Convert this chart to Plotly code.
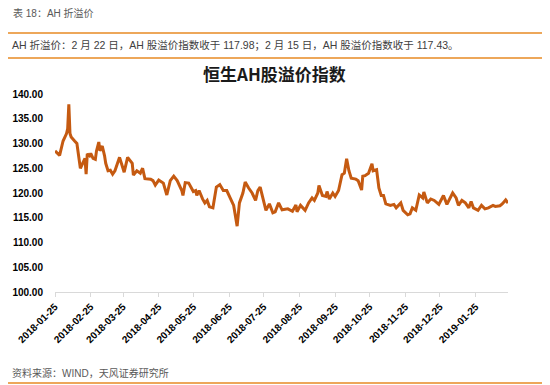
import plotly.graph_objects as go

dates = [
    "2018-01-25", "2018-01-27", "2018-01-29", "2018-02-01", "2018-02-04", "2018-02-05",
    "2018-02-06", "2018-02-07", "2018-02-08", "2018-02-11", "2018-02-13", "2018-02-16",
    "2018-02-18", "2018-02-20", "2018-02-21", "2018-02-22", "2018-02-24", "2018-02-25",
    "2018-02-27", "2018-03-01", "2018-03-02", "2018-03-04", "2018-03-05", "2018-03-07",
    "2018-03-09", "2018-03-10", "2018-03-12", "2018-03-14", "2018-03-16", "2018-03-18",
    "2018-03-22", "2018-03-26", "2018-03-29", "2018-04-02", "2018-04-03", "2018-04-06",
    "2018-04-09", "2018-04-11", "2018-04-13", "2018-04-18", "2018-04-20", "2018-04-22",
    "2018-04-25", "2018-04-29", "2018-05-02", "2018-05-05", "2018-05-08", "2018-05-11",
    "2018-05-15", "2018-05-16", "2018-05-18", "2018-05-21", "2018-05-25", "2018-05-27",
    "2018-05-28", "2018-05-30", "2018-06-02", "2018-06-04", "2018-06-06", "2018-06-08",
    "2018-06-11", "2018-06-14", "2018-06-17", "2018-06-20", "2018-06-23", "2018-06-26",
    "2018-06-29", "2018-07-02", "2018-07-04", "2018-07-07", "2018-07-09", "2018-07-12",
    "2018-07-15", "2018-07-18", "2018-07-20", "2018-07-22", "2018-07-25", "2018-07-27",
    "2018-07-30", "2018-08-02", "2018-08-04", "2018-08-07", "2018-08-10", "2018-08-15",
    "2018-08-19", "2018-08-22", "2018-08-23", "2018-08-26", "2018-08-30", "2018-09-02",
    "2018-09-05", "2018-09-07", "2018-09-10", "2018-09-11", "2018-09-14", "2018-09-17",
    "2018-09-18", "2018-09-20", "2018-09-23", "2018-09-25", "2018-09-28", "2018-10-01",
    "2018-10-03", "2018-10-05", "2018-10-07", "2018-10-09", "2018-10-13", "2018-10-15",
    "2018-10-18", "2018-10-19", "2018-10-21", "2018-10-24", "2018-10-27", "2018-10-28",
    "2018-10-31", "2018-11-02", "2018-11-04", "2018-11-06", "2018-11-08", "2018-11-12",
    "2018-11-15", "2018-11-17", "2018-11-21", "2018-11-23", "2018-11-27", "2018-11-29",
    "2018-12-01", "2018-12-04", "2018-12-07", "2018-12-10", "2018-12-11", "2018-12-14",
    "2018-12-17", "2018-12-20", "2018-12-24", "2018-12-26", "2018-12-28", "2018-12-31",
    "2019-01-02", "2019-01-05", "2019-01-08", "2019-01-10", "2019-01-13", "2019-01-16",
    "2019-01-19", "2019-01-21", "2019-01-23", "2019-01-27", "2019-01-30", "2019-02-02",
    "2019-02-05", "2019-02-09", "2019-02-11", "2019-02-15", "2019-02-17", "2019-02-20",
    "2019-02-22",
]

ah_premium = [
    128.5, 128.0, 127.6, 130.5, 132.0, 133.0,
    137.9, 132.0, 131.3, 130.5, 130.0, 125.0,
    126.0, 127.0, 123.8, 127.9, 127.5, 128.0,
    127.0, 126.8, 128.5, 130.3, 128.5, 129.5,
    127.5, 126.0, 124.5, 124.6, 123.8, 124.5,
    127.2, 124.2, 127.2, 126.0, 123.6, 124.5,
    124.0, 125.0, 122.9, 122.8, 122.5, 121.6,
    122.6, 122.0, 119.6, 122.5, 123.4, 122.5,
    120.5, 119.5, 122.1, 122.0, 120.3, 120.5,
    119.5, 120.5, 118.8, 118.0, 118.5, 117.2,
    117.0, 121.2, 121.7, 120.5, 120.5, 119.0,
    117.5, 113.3, 118.0, 120.0, 122.2, 121.0,
    120.0, 118.5, 120.5, 121.2, 118.5, 116.5,
    117.8, 116.0, 116.2, 118.0, 116.6, 116.8,
    116.3, 117.6, 116.2, 117.5, 116.5, 118.0,
    119.0, 118.5, 120.0, 121.5, 119.5, 119.3,
    120.3, 118.8, 120.0, 119.3, 120.5, 123.7,
    124.0, 126.9, 124.5, 123.0, 122.8, 122.5,
    120.6, 123.4, 123.5, 124.0, 125.9, 124.5,
    124.7, 121.0, 119.5, 119.5, 117.8, 117.5,
    117.7, 117.0, 118.0, 116.5, 115.6, 115.8,
    117.0, 116.5, 119.6, 119.0, 120.2, 118.0,
    118.8, 118.5, 117.7, 118.5, 119.5, 117.7,
    118.5, 120.0, 119.0, 117.5, 118.5, 118.0,
    117.0, 118.3, 117.0, 116.5, 117.5, 116.8,
    117.0, 117.5, 117.3, 117.43, 117.8, 118.6,
    117.98,
]

y_ticks = [100, 105, 110, 115, 120, 125, 130, 135, 140]

header = "表 18：AH 折溢价"
summary = "AH 折溢价：2 月 22 日，AH 股溢价指数收于 117.98；2 月 15 日，AH 股溢价指数收于 117.43。"
chart_title = "恒生AH股溢价指数"
source = "资料来源：WIND，天风证券研究所"

FONT = "Liberation Sans, Arial, Noto Sans CJK SC, sans-serif"
ORANGE = "#C55A11"
RULE = "#EDA75A"

# plot area in window pixels: x 55..508, y 94..292 (page adds 8px body margin)
PW, PH = 453, 198


def px(xw):
    return (xw - 55) / PW


def py(yw):
    return (292 - yw) / PH


fig = go.Figure()
fig.add_trace(go.Scatter(
    x=dates, y=ah_premium, mode="lines",
    line=dict(color=ORANGE, width=3),
    hoverinfo="skip", showlegend=False,
))

fig.update_layout(
    width=550, height=385,
    margin=dict(l=47, r=50, t=86, b=101),
    paper_bgcolor="white", plot_bgcolor="white",
    font=dict(family=FONT, color="#000000"),
    showlegend=False,
    xaxis=dict(
        type="date",
        range=[dates[0], dates[-1]],
        tick0="2018-01-25", dtick="M1", tickformat="%Y-%m-%d",
        tickangle=-45,
        tickfont=dict(size=10, weight="bold", color="#000000"),
        showgrid=False, zeroline=False,
        showline=True, linecolor="#D9D9D9", linewidth=1,
        ticks="outside", ticklen=4, tickcolor="#D9D9D9",
        automargin=False,
    ),
    yaxis=dict(
        range=[100, 140],
        tickvals=y_ticks, tickformat=".2f",
        tickfont=dict(size=10, weight="bold", color="#000000"),
        showgrid=False, zeroline=False, showline=False,
        ticks="", ticklabelstandoff=11,
        automargin=False,
    ),
)

fig.add_annotation(text=header, xref="paper", yref="paper",
                   x=px(11), y=py(13), xanchor="left", yanchor="middle",
                   showarrow=False, font=dict(size=10, color="#595959", family=FONT))
fig.add_annotation(text=summary, xref="paper", yref="paper",
                   x=px(10), y=py(45), xanchor="left", yanchor="middle",
                   showarrow=False, font=dict(size=10.5, color="#404040", family=FONT))
fig.add_annotation(text=chart_title, xref="paper", yref="paper",
                   x=px(274), y=py(73), xanchor="center", yanchor="middle",
                   showarrow=False,
                   font=dict(size=17, color="#1a1a1a", family="Noto Sans CJK SC", weight="bold"))
fig.add_annotation(text=source, xref="paper", yref="paper",
                   x=px(10), y=py(373), xanchor="left", yanchor="middle",
                   showarrow=False, font=dict(size=10, color="#595959", family=FONT))

for yw in (33, 58, 383):
    fig.add_shape(type="line", xref="paper", yref="paper",
                  x0=px(8), x1=px(550),
                  y0=py(yw), y1=py(yw),
                  line=dict(color=RULE, width=2))

fig.write_html("out.html")
